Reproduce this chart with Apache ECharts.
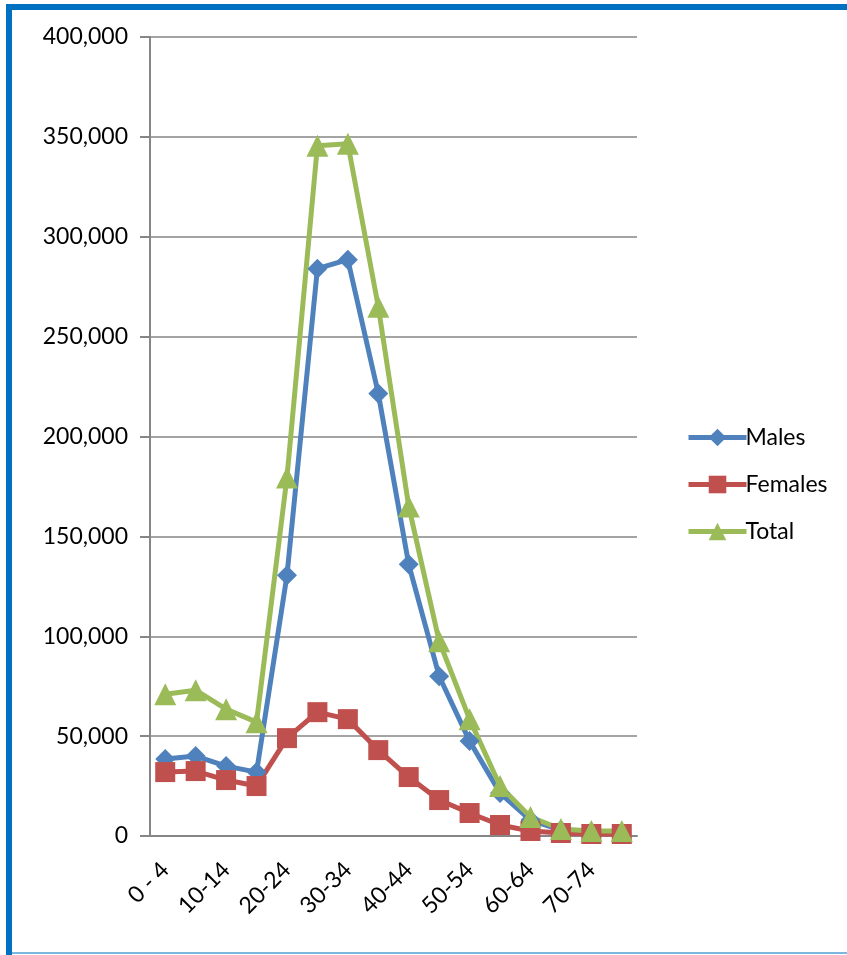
<!DOCTYPE html>
<html>
<head>
<meta charset="utf-8">
<script src="https://cdn.jsdelivr.net/npm/echarts@6/dist/echarts.min.js"></script>
<style>
html, body { margin: 0; padding: 0; background: #fff; }
#grafico { width: 847px; height: 955px; }
</style>
</head>
<body>
<div id="grafico"></div>
<script>
var ageGroups = ['0 - 4', '5-9', '10-14', '15-19', '20-24', '25-29', '30-34', '35-39',
    '40-44', '45-49', '50-54', '55-59', '60-64', '65-69', '70-74', '75-79'];
var males = [38500, 40000, 35000, 32000, 130500, 284000, 288500, 221500,
    136000, 80000, 47500, 21500, 8000, 3000, 2000, 1500];
var females = [32000, 32500, 28000, 25000, 49000, 62000, 58500, 43000,
    29500, 18000, 11500, 5500, 2500, 1500, 1000, 1000];
var total = [71000, 73000, 63500, 57000, 179500, 345500, 346500, 265000,
    165000, 97500, 58500, 25000, 9500, 3500, 2500, 2500];

var dom = document.getElementById("grafico");
var myChart = echarts.init(dom);
var font = 'Lato';

function serie(name, data, color, symbol, size) {
    return {
        name: name,
        type: 'line',
        data: data,
        symbol: symbol,
        symbolSize: size,
        showAllSymbol: true,
        lineStyle: { color: color, width: 5 },
        itemStyle: { color: color },
        emphasis: { disabled: true }
    };
}

var option = {
    backgroundColor: '#fff',
    animation: false,
    textStyle: { fontFamily: font },
    graphic: [
        { type: 'rect', shape: { x: 6, y: 4, width: 841, height: 6 }, style: { fill: '#0070C0' } },
        { type: 'rect', shape: { x: 6, y: 4, width: 6, height: 951 }, style: { fill: '#0070C0' } },
        { type: 'rect', shape: { x: 12, y: 952, width: 835, height: 2 }, style: { fill: '#7DB7E0' } }
    ],
    grid: { left: 150, right: 210, top: 37, bottom: 119, containLabel: false },
    legend: {
        orient: 'vertical',
        left: 681,
        top: 421,
        itemGap: 24,
        itemWidth: 58,
        itemHeight: 22,
        lineStyle: { width: 5 },
        textStyle: { fontFamily: font, fontSize: 23, color: '#000', padding: [0, 0, 0, -6] },
        data: ['Males', 'Females', 'Total']
    },
    xAxis: {
        type: 'category',
        data: ageGroups,
        boundaryGap: true,
        axisLine: { lineStyle: { color: '#868686', width: 2 } },
        axisTick: { interval: 0, length: 8, lineStyle: { color: '#868686', width: 2 } },
        axisLabel: { interval: 1, rotate: 45, margin: 30, fontFamily: font, fontSize: 23, color: '#000' },
        splitLine: { show: false }
    },
    yAxis: {
        type: 'value',
        min: 0,
        max: 400000,
        interval: 50000,
        axisLine: { show: true, lineStyle: { color: '#868686', width: 2 } },
        axisTick: { show: true, length: 10, lineStyle: { color: '#868686', width: 2 } },
        axisLabel: {
            margin: 22, fontFamily: font, fontSize: 23, color: '#000',
            formatter: function (v) { return v.toLocaleString('en-US'); }
        },
        splitLine: { lineStyle: { color: '#868686', width: 1.5 } }
    },
    series: [
        serie('Males', males, '#4F81BD', 'diamond', 20),
        serie('Females', females, '#C0504D', 'rect', 20),
        serie('Total', total, '#9BBB59', 'triangle', 22)
    ]
};

if (option && typeof option === "object") {
    myChart.setOption(option, true);
}
</script>
</body>
</html>
